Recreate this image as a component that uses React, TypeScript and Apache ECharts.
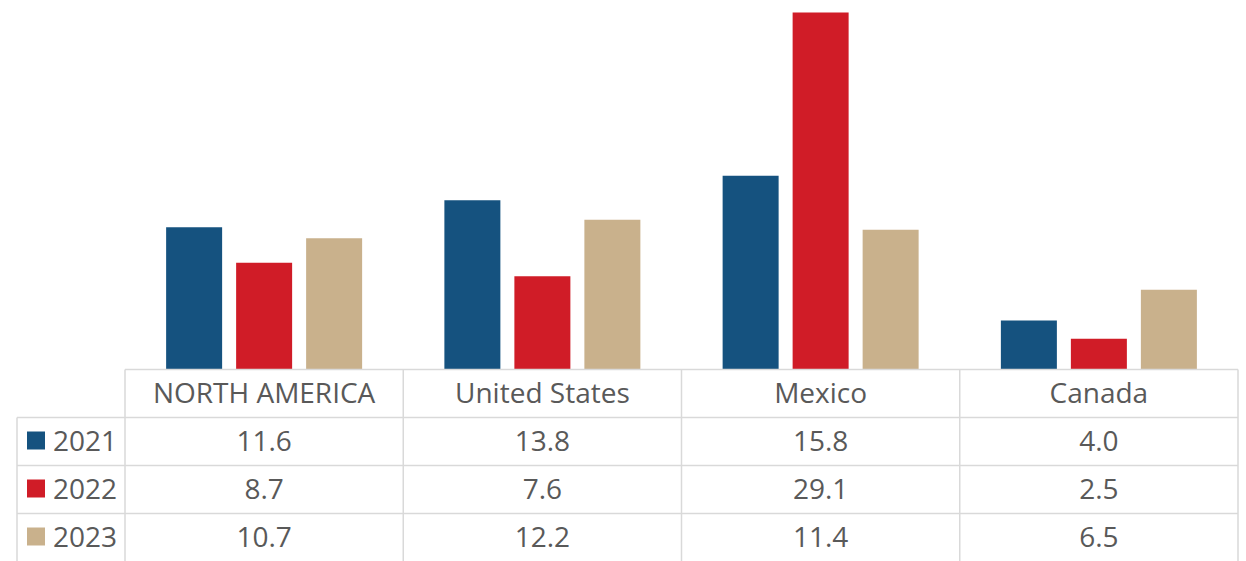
import React, { useEffect, useRef } from "react";
import * as echarts from "echarts";

const categories = ["NORTH AMERICA", "United States", "Mexico", "Canada"];
const years = ["2021", "2022", "2023"];
const values2021 = [11.6, 13.8, 15.8, 4.0];
const values2022 = [8.7, 7.6, 29.1, 2.5];
const values2023 = [10.7, 12.2, 11.4, 6.5];
const seriesValues = [values2021, values2022, values2023];
const colors = ["#15527f", "#d01c27", "#c9b18c"];

const W = 1246;
const H = 561;
const GRID_LEFT = 125;
const GRID_RIGHT_X = 1238;
const GRID_TOP = 1.5;
const BASE_Y = 369.5;
const ROW_H = 48;
const TABLE_LEFT = 17;
const LINE = "#d9d9d9";
const TEXT = "#595959";
const FONT = "Open Sans";
const FS = 28;

export default function App() {
  const ref = useRef<HTMLDivElement>(null);
  useEffect(() => {
    document.body.style.margin = "0";
    const chart = echarts.init(ref.current!, undefined, { renderer: "svg" });
    const colW = (GRID_RIGHT_X - GRID_LEFT) / categories.length;
    const graphics: any[] = [];
    const lineStyle = { stroke: LINE, lineWidth: 1.5 };
    graphics.push({ type: "line", shape: { x1: GRID_LEFT, y1: BASE_Y, x2: GRID_RIGHT_X, y2: BASE_Y }, style: lineStyle, z: 10 });
    for (let r = 1; r <= years.length; r++) {
      const y = BASE_Y + r * ROW_H;
      graphics.push({ type: "line", shape: { x1: TABLE_LEFT, y1: y, x2: GRID_RIGHT_X, y2: y }, style: lineStyle, z: 10 });
    }
    for (let c = 0; c <= categories.length; c++) {
      const x = GRID_LEFT + c * colW;
      graphics.push({ type: "line", shape: { x1: x, y1: BASE_Y, x2: x, y2: H + 5 }, style: lineStyle, z: 10 });
    }
    graphics.push({ type: "line", shape: { x1: TABLE_LEFT, y1: BASE_Y + ROW_H, x2: TABLE_LEFT, y2: H + 5 }, style: lineStyle, z: 10 });
    categories.forEach((c, i) => {
      graphics.push({
        type: "text",
        x: GRID_LEFT + (i + 0.5) * colW,
        y: BASE_Y + ROW_H / 2 - 2,
        style: { text: c, fill: TEXT, font: `${FS}px "${FONT}"`, textAlign: "center", textVerticalAlign: "middle" },
      });
    });
    years.forEach((yr, r) => {
      const cy = BASE_Y + (r + 1) * ROW_H + ROW_H / 2 - 2;
      graphics.push({ type: "rect", shape: { x: 27, y: cy - 8, width: 18, height: 18 }, style: { fill: colors[r] } });
      graphics.push({
        type: "text",
        x: 53,
        y: cy,
        style: { text: yr, fill: TEXT, font: `${FS}px "${FONT}"`, textAlign: "left", textVerticalAlign: "middle" },
      });
      seriesValues[r].forEach((v, i) => {
        graphics.push({
          type: "text",
          x: GRID_LEFT + (i + 0.5) * colW,
          y: cy,
          style: { text: v.toFixed(1), fill: TEXT, font: `${FS}px "${FONT}"`, textAlign: "center", textVerticalAlign: "middle" },
        });
      });
    });

    chart.setOption({
      animation: false,
      backgroundColor: "#ffffff",
      grid: { left: GRID_LEFT, right: W - GRID_RIGHT_X, top: GRID_TOP, height: BASE_Y - GRID_TOP },
      xAxis: {
        type: "category",
        data: categories,
        axisLine: { show: false },
        axisTick: { show: false },
        axisLabel: { show: false },
      },
      yAxis: { type: "value", min: 0, max: 30, show: false, splitLine: { show: false } },
      series: years.map((yr, r) => ({
        name: yr,
        type: "bar",
        data: seriesValues[r],
        barWidth: 56,
        barGap: "25%",
        itemStyle: { color: colors[r] },
      })),
      graphic: graphics,
    });
    return () => chart.dispose();
  }, []);
  return <div ref={ref} style={{ width: W, height: H, position: "absolute", left: 0, top: 0 }} />;
}
